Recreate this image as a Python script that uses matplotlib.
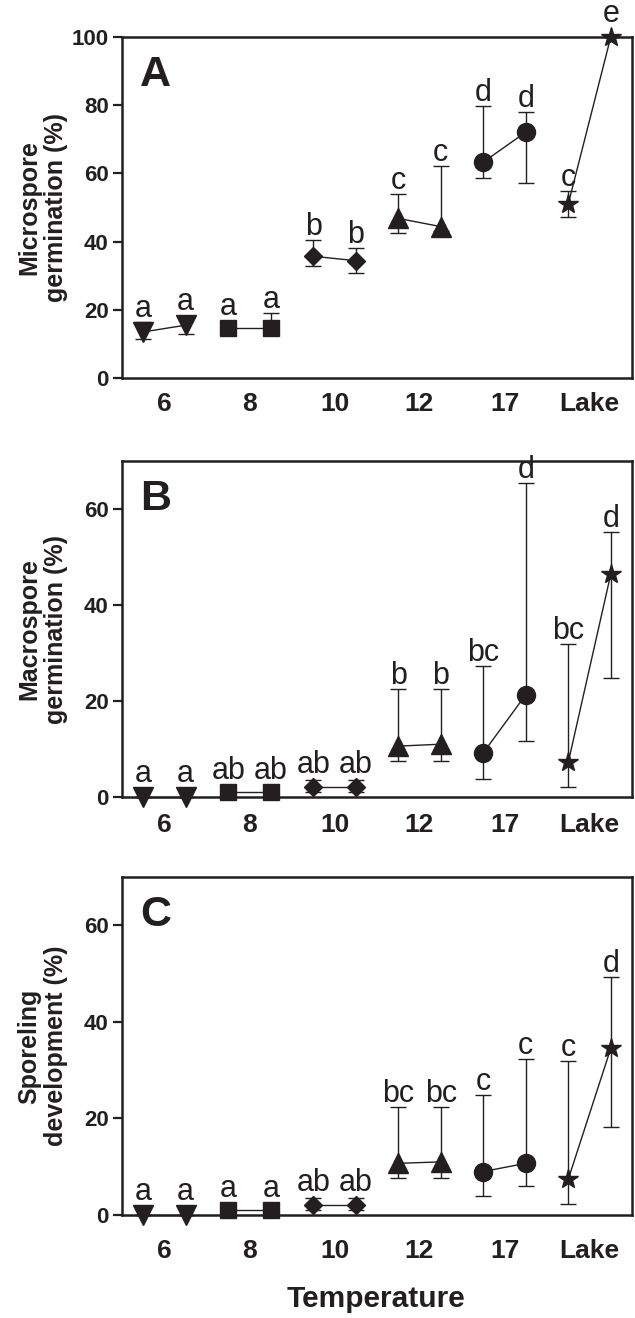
import numpy as np
import matplotlib.pyplot as plt

plt.rcParams['font.family'] = ['Liberation Sans', 'DejaVu Sans']

# categories and marker per temperature group
groups = ["6", "8", "10", "12", "17", "Lake"]
group_markers = ["v", "s", "D", "^", "o", "*"]
marker_sizes = {"v": 14, "s": 12, "D": 9.5, "^": 14, "o": 13, "*": 15}

# Panel A - microspore germination (%)
micro_mean = [13.5, 15.5, 14.7, 14.7, 35.7, 34.4, 46.8, 44.4, 63.3, 72.1, 51.0, 100.0]
micro_lo = [11.3, 13.0, 14.7, 14.7, 32.9, 30.7, 42.4, 43.0, 58.6, 57.1, 47.3, 100.0]
micro_hi = [16.5, 17.4, 14.7, 19.2, 40.4, 38.0, 53.9, 62.3, 79.9, 77.9, 54.7, 100.0]
micro_sig = ["a", "a", "a", "a", "b", "b", "c", "c", "d", "d", "c", "e"]

# Panel B - macrospore germination (%)
macro_mean = [0.0, 0.0, 1.0, 1.0, 2.0, 2.0, 10.6, 11.0, 9.2, 21.3, 7.2, 46.4]
macro_lo = [0.0, 0.0, 1.0, 1.0, 1.0, 1.0, 7.6, 7.6, 3.8, 11.7, 2.1, 24.7]
macro_hi = [0.0, 0.0, 1.0, 1.0, 3.5, 3.5, 22.4, 22.4, 27.3, 65.5, 31.8, 55.3]
macro_sig = ["a", "a", "ab", "ab", "ab", "ab", "b", "b", "bc", "d", "bc", "d"]

# Panel C - sporeling development (%)
spor_mean = [0.0, 0.0, 1.0, 1.0, 2.1, 2.1, 10.7, 11.0, 9.0, 10.7, 7.4, 34.5]
spor_lo = [0.0, 0.0, 1.0, 1.0, 1.0, 1.0, 7.7, 7.7, 3.9, 6.0, 2.2, 18.3]
spor_hi = [0.0, 0.0, 1.0, 1.0, 3.6, 3.6, 22.4, 22.4, 24.8, 32.4, 31.9, 49.2]
spor_sig = ["a", "a", "a", "a", "ab", "ab", "bc", "bc", "c", "c", "c", "d"]

ink = '#231f20'
W, H = 635, 1318
fig = plt.figure(figsize=(W / 100, H / 100), dpi=100)


def box(top, bottom, left=122, right=632):
    return [left / W, 1 - bottom / H, (right - left) / W, (bottom - top) / H]


def panel(rect, mean, lo, hi, sig, ymax, yticks, ylabel, letter, xpad):
    ax = fig.add_axes(rect)
    x = np.arange(1, len(mean) + 1)
    mean = np.array(mean)
    lo = np.array(lo)
    hi = np.array(hi)
    ax.set_xlim(0.5, 12.5)
    ax.set_ylim(0, ymax)

    ax.errorbar(x, mean, yerr=[mean - lo, hi - mean], fmt='none', ecolor=ink,
                elinewidth=1.0, capsize=6, capthick=1.0, clip_on=False, zorder=2)
    for i, m in enumerate(group_markers):
        xs = x[2 * i:2 * i + 2]
        ys = mean[2 * i:2 * i + 2]
        ax.plot(xs, ys, color=ink, lw=1.0, marker=m, ms=marker_sizes[m],
                mfc=ink, mec=ink, clip_on=False, zorder=3)

    # letters above error bars / markers
    px_per_unit = ax.bbox.height / ymax
    for i in range(len(mean)):
        m = group_markers[i // 2]
        half = marker_sizes[m] / 2 * 100 / 72
        if m == "D":
            half *= 1.414
        bar_px = (hi[i] - mean[i]) * px_per_unit
        off_px = max(bar_px, half) + 5
        ax.annotate(sig[i], xy=(x[i], mean[i]), xytext=(0, off_px * 72 / 100),
                    textcoords='offset points', ha='center', va='baseline',
                    fontsize=22, color=ink, annotation_clip=False)

    ax.set_xticks(np.arange(1.5, 12.5, 2))
    ax.set_xticklabels(groups)
    ax.set_yticks(yticks)
    ax.tick_params(axis='x', length=0, pad=xpad, labelsize=19, colors=ink)
    ax.tick_params(axis='y', length=6.5, width=1.6, pad=3, labelsize=16, colors=ink)
    for t in ax.get_xticklabels() + ax.get_yticklabels():
        t.set_fontweight('bold')
    for s in ax.spines.values():
        s.set_linewidth(1.8)
        s.set_color(ink)
    ax.set_ylabel(ylabel, fontsize=18, fontweight='bold', linespacing=1.15, color=ink)
    ax.yaxis.set_label_coords(-0.105, 0.5)
    ax.text(0.035, 0.855, letter, transform=ax.transAxes, fontsize=31,
            fontweight='bold', va='baseline', color=ink)
    return ax


panel(box(37, 378), micro_mean, micro_lo, micro_hi, micro_sig, 100,
      [0, 20, 40, 60, 80, 100], "Microspore\ngermination (%)", "A", 10)
panel(box(461, 797), macro_mean, macro_lo, macro_hi, macro_sig, 70,
      [0, 20, 40, 60], "Macrospore\ngermination (%)", "B", 11.5)
panel(box(877, 1215), spor_mean, spor_lo, spor_hi, spor_sig, 70,
      [0, 20, 40, 60], "Sporeling\ndevelopment (%)", "C", 17)

fig.text(376 / W, 1 - 1307 / H, "Temperature", ha='center', va='baseline',
         fontsize=21.5, fontweight='bold', color=ink)

fig.savefig("out.png", dpi=100)
